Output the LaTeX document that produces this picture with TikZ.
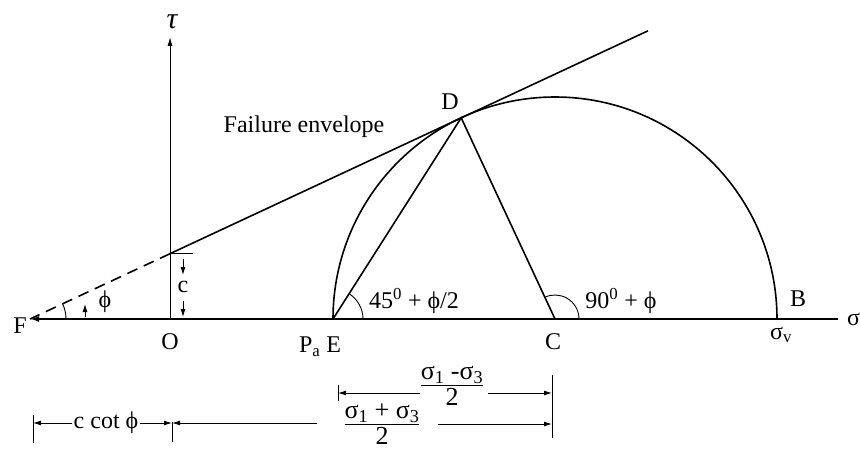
\documentclass[tikz,border=0pt]{standalone}
\usepackage{fontspec}
\setmainfont{Liberation Serif}
\usetikzlibrary{arrows.meta,calc}
\begin{document}
\begin{tikzpicture}[x=1pt,y=1pt,
  lab/.style={font=\fontsize{24}{26}\selectfont, inner sep=1pt},
  fraclab/.style={font=\fontsize{26}{28}\selectfont, inner sep=0pt},
  heavy/.style={line width=1.6pt},
  axisline/.style={line width=2pt},
  thin/.style={line width=0.9pt},
  tipr/.style={-{Latex[length=8pt,width=5pt]}},
]
\useasboundingbox (0,0) rectangle (860,451);
% main points
\coordinate (F) at (30,132);
\coordinate (O) at (170,132);
\coordinate (E) at (333,132);
\coordinate (C) at (555,132);
\coordinate (B) at (777,132);
\coordinate (Xend) at (838,132);
\coordinate (Ttop) at (170,414);
\coordinate (D) at ($(C)+(115:222)$);
\coordinate (I) at (170,197.3);
\coordinate (Gend) at (648,420.2);
% axes
\draw[axisline,-{Latex[length=9pt,width=6pt]}] (Xend) -- (F);
\draw[thin,-{Latex[length=9pt,width=5pt]}] (O) -- (Ttop);
% envelope
\draw[heavy] (I) -- (Gend);
\draw[heavy,dash pattern=on 11pt off 7pt] (I) -- (F);
% Mohr circle
\draw[heavy] (E) arc[start angle=180,end angle=0,radius=222];
\draw[heavy] (E) -- (D) -- (C);
% angle arcs
\draw[thin] ([shift={(0:30)}]E) arc[start angle=0,end angle=57.5,radius=30];
\draw[thin] ([shift={(0:24)}]C) arc[start angle=0,end angle=115,radius=24];
\draw[thin] ([shift={(0:36)}]F) arc[start angle=0,end angle=25,radius=36];
\coordinate (pa1) at (85,134);
\coordinate (pa2) at (85,147);
\draw[thin,tipr] (pa1) -- (pa2);
% c dimension
\coordinate (ct) at (193,197.3);
\draw[thin] (I) -- (ct);
\coordinate (c1) at (183,192);
\coordinate (c2) at (183,176);
\coordinate (c3) at (183,150);
\coordinate (c4) at (183,134);
\draw[thin,tipr] (c1) -- (c2);
\draw[thin,tipr] (c3) -- (c4);
\node[lab] (cl) at (183,164) {c};
% labels
\node[inner sep=0pt,font=\fontsize{30}{32}\selectfont\itshape] (tau) at (172,429) {τ};
\node[lab] (Fl) at (20,125) {F};
\node[lab] (Ol) at (170,109) {O};
\node[lab] (PE) at (320,104) {P\textsubscript{a} E};
\node[lab] (Cl) at (553,109) {C};
\node[lab] (Sv) at (781,116) {σ\textsubscript{v}};
\node[lab] (Bl) at (798,152) {B};
\node[lab,anchor=west] (Sig) at (846,132) {σ};
\node[lab] (Dl) at (450,349) {D};
\node[lab] (FE) at (304,324) {Failure envelope};
\node[lab] (a1) at (414,150) {45\textsuperscript{0} + ϕ/2};
\node[lab] (a2) at (621,150) {90\textsuperscript{0} + ϕ};
\node[lab] (phiF) at (105,149) {ϕ};
% bottom dimensions
\coordinate (t1a) at (33,36);  \coordinate (t1b) at (33,8);
\coordinate (t2a) at (172,29); \coordinate (t2b) at (172,9);
\coordinate (t3a) at (338,66); \coordinate (t3b) at (338,50);
\coordinate (t4a) at (552,76); \coordinate (t4b) at (552,13);
\draw[thin] (t1a) -- (t1b);
\draw[thin] (t2a) -- (t2b);
\draw[thin] (t3a) -- (t3b);
\draw[thin] (t4a) -- (t4b);
\node[lab] (cc) at (106,28) {c cot ϕ};
\coordinate (L1) at (33,28); \coordinate (L2) at (172,28);
\draw[thin,tipr] (cc.west) -- (L1);
\draw[thin,tipr] (cc.east) -- (L2);
\coordinate (m1) at (317,28);
\draw[thin,tipr] (m1) -- (L2);
\node[fraclab] (f2) at (382,25) {\begin{tabular}{@{}c@{}}σ\textsubscript{1} + σ\textsubscript{3}\\[-3pt]\hline 2\end{tabular}};
\coordinate (m2) at (438,27); \coordinate (m3) at (552,27);
\draw[thin,tipr] (m2) -- (m3);
\node[fraclab] (f1) at (452,64) {\begin{tabular}{@{}c@{}}σ\textsubscript{1} -σ\textsubscript{3}\\[-3pt]\hline 2\end{tabular}};
\coordinate (u1) at (420,58); \coordinate (u2) at (338,58);
\coordinate (u3) at (488,58); \coordinate (u4) at (552,58);
\draw[thin,tipr] (u1) -- (u2);
\draw[thin,tipr] (u3) -- (u4);
\end{tikzpicture}
\end{document}
